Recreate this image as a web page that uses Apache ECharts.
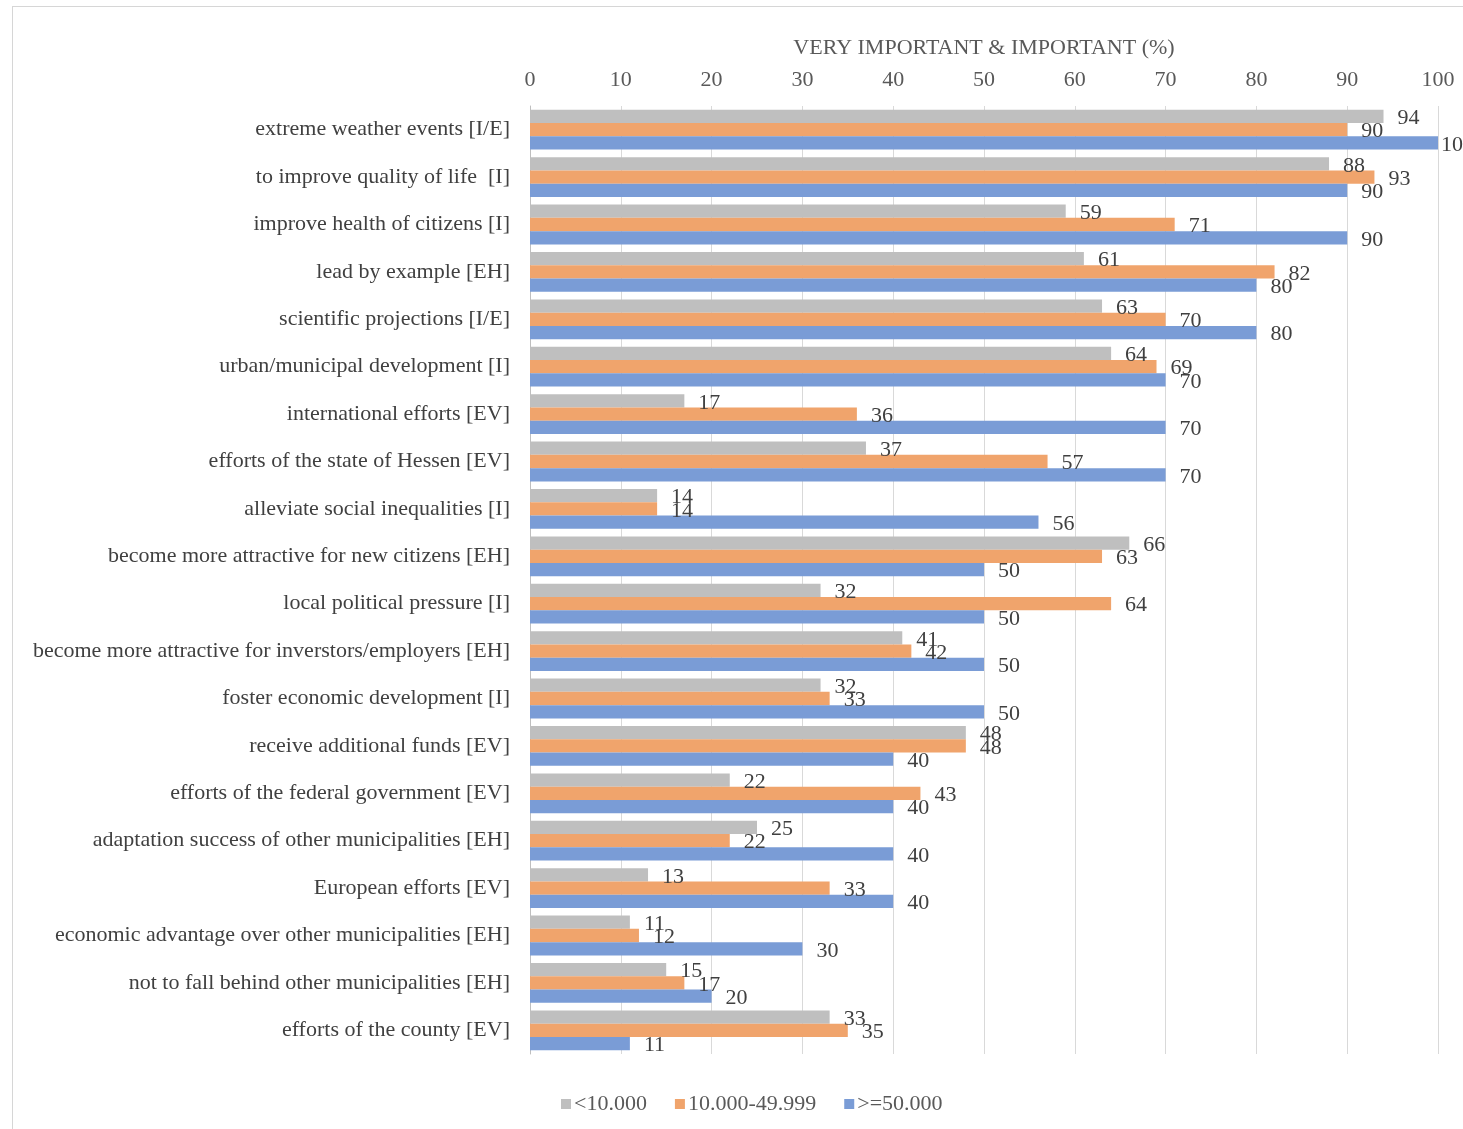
<!DOCTYPE html>
<html>
<head>
<meta charset="utf-8">
<script src="https://cdn.jsdelivr.net/npm/echarts@6/dist/echarts.min.js"></script>
<style>
  html, body { margin: 0; padding: 0; width: 1463px; height: 1129px; overflow: hidden; background: #fff; }
  #frame { position: absolute; left: 12px; top: 6px; width: 1520px; height: 1200px; border: 1px solid #d6d6d6; box-sizing: border-box; }
  #chart { position: absolute; left: 0; top: 0; width: 1463px; height: 1129px; }
</style>
</head>
<body>
<div id="frame"></div>
<div id="chart"></div>
<script>
// Motives for climate adaptation, share rated "very important" or "important", by municipality size
const categories = [
  'extreme weather events [I/E]',
  'to improve quality of life  [I]',
  'improve health of citizens [I]',
  'lead by example [EH]',
  'scientific projections [I/E]',
  'urban/municipal development [I]',
  'international efforts [EV]',
  'efforts of the state of Hessen [EV]',
  'alleviate social inequalities [I]',
  'become more attractive for new citizens [EH]',
  'local political pressure [I]',
  'become more attractive for inverstors/employers [EH]',
  'foster economic development [I]',
  'receive additional funds [EV]',
  'efforts of the federal government [EV]',
  'adaptation success of other municipalities [EH]',
  'European efforts [EV]',
  'economic advantage over other municipalities [EH]',
  'not to fall behind other municipalities [EH]',
  'efforts of the county [EV]'
];
const seriesNames = ['<10.000', '10.000-49.999', '>=50.000'];
const small  = [94, 88, 59, 61, 63, 64, 17, 37, 14, 66, 32, 41, 32, 48, 22, 25, 13, 11, 15, 33];
const medium = [90, 93, 71, 82, 70, 69, 36, 57, 14, 63, 64, 42, 33, 48, 43, 22, 33, 12, 17, 35];
const large  = [100, 90, 90, 80, 80, 70, 70, 70, 56, 50, 50, 50, 50, 40, 40, 40, 40, 30, 20, 11];
const xTicks = { min: 0, max: 100, interval: 10 };
const axisTitle = 'VERY IMPORTANT & IMPORTANT (%)';

const colors = ['#bfbfbf', '#f0a46c', '#7a9cd6'];
const font = 'Liberation Serif, Times New Roman, serif';

const chart = echarts.init(document.getElementById('chart'), null, { renderer: 'canvas' });

// Bars that reach the axis maximum keep their label tight against the bar end
function toItems(values) {
  return values.map(v => v >= xTicks.max ? { value: v, label: { distance: 3 } } : v);
}

function barSeries(name, data, color) {
  return {
    name: name,
    type: 'bar',
    data: toItems(data),
    barGap: '0%',
    barCategoryGap: '16%',
    itemStyle: { color: color },
    label: {
      show: true,
      position: 'right',
      distance: 14,
      offset: [0, 2],
      color: '#404040',
      fontFamily: font,
      fontSize: 22
    }
  };
}

chart.setOption({
  animation: false,
  textStyle: { fontFamily: font },
  grid: { left: 530, right: 25, top: 106, bottom: 75, containLabel: false },
  legend: {
    data: seriesNames,
    left: 556,
    top: 1088,
    icon: 'rect',
    itemWidth: 10,
    itemHeight: 10,
    itemGap: 28,
    textStyle: { fontFamily: font, fontSize: 22, color: '#595959', padding: [0, 0, 0, -2] }
  },
  xAxis: {
    type: 'value',
    position: 'top',
    min: xTicks.min,
    max: xTicks.max,
    interval: xTicks.interval,
    name: axisTitle,
    nameLocation: 'middle',
    nameGap: 47,
    nameTextStyle: { fontFamily: font, fontSize: 22, color: '#595959' },
    axisLine: { show: false },
    axisTick: { show: false },
    axisLabel: { margin: 15, fontFamily: font, fontSize: 22, color: '#595959' },
    splitLine: { show: true, lineStyle: { color: '#d9d9d9', width: 1 } }
  },
  yAxis: {
    type: 'category',
    data: categories,
    inverse: true,
    axisLine: { show: true, lineStyle: { color: '#bfbfbf', width: 1 } },
    axisTick: { show: false },
    axisLabel: { margin: 20, fontFamily: font, fontSize: 22, color: '#404040' }
  },
  series: [
    barSeries(seriesNames[0], small, colors[0]),
    barSeries(seriesNames[1], medium, colors[1]),
    barSeries(seriesNames[2], large, colors[2])
  ]
});
</script>
</body>
</html>
